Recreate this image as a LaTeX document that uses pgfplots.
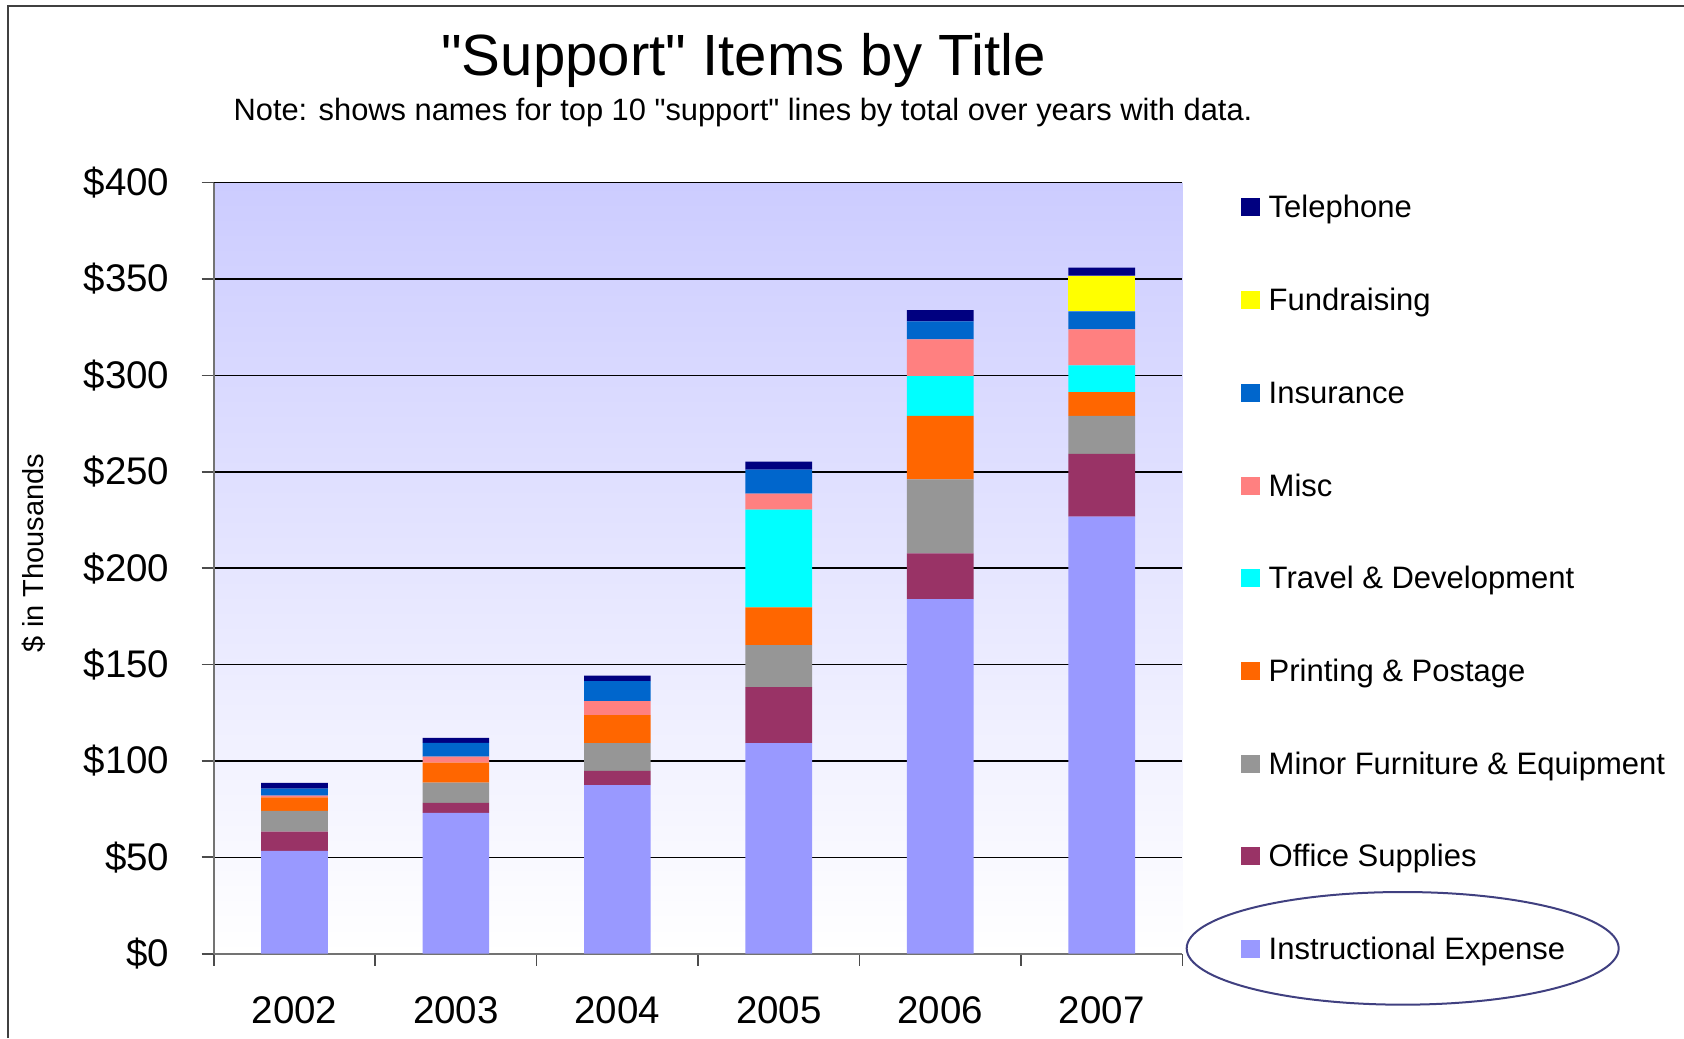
\documentclass[border=0pt]{standalone}
\usepackage{pgfplots}
\pgfplotsset{compat=1.18}
\usepackage{pgfplotstable}
\usepackage{fontspec}
\setmainfont{Liberation Sans}[Ligatures=TeXOff]
\definecolor{cInstr}{HTML}{9999FF}
\definecolor{cOffice}{HTML}{993366}
\definecolor{cMinor}{HTML}{969696}
\definecolor{cPrint}{HTML}{FF6600}
\definecolor{cTravel}{HTML}{00FFFF}
\definecolor{cMisc}{HTML}{FF8080}
\definecolor{cInsur}{HTML}{0066CC}
\definecolor{cFund}{HTML}{FFFF00}
\definecolor{cTel}{HTML}{000080}
\definecolor{cLav}{HTML}{CCCCFF}
\definecolor{cEll}{HTML}{404080}
\pgfplotstableread{
x instr office minor print travel misc insur fund tel
0 53.4  9.9  10.8 7.0  0    0.9  3.6  0    3.0
1 73.1  5.2  10.4 10.4 0    3.1  7.2  0    2.6
2 87.5  7.3  14.5 14.5 0    7.2  10.4 0    2.9
3 109.2 29.1 21.8 19.6 50.7 8.3  12.4 0    4.2
4 183.9 23.8 38.3 33.0 20.6 19.1 9.3  0    5.8
5 226.7 32.6 19.7 12.3 13.9 18.7 9.3  18.6 4.1
}\datatable
\begin{document}
\begin{tikzpicture}
\path[use as bounding box] (0pt,0pt) rectangle (505.2pt,311.4pt);
\draw[line width=0.6pt, color=black!75] (2.4pt,0pt) -- (2.4pt,309.6pt) -- (505.2pt,309.6pt);
\node[anchor=base, font=\fontsize{17.45}{20}\selectfont] at (223.1pt,288.6pt) {"Support" Items by Title};
\node[anchor=base, font=\fontsize{9.25}{11}\selectfont] at (222.9pt,275.1pt) {Note: shows names for top 10 "support" lines by total over years with data.};
\node[rotate=90, font=\fontsize{8.7}{10}\selectfont] at (10.2pt,145.5pt) {\$ in Thousands};
\begin{axis}[
  at={(64.11pt,25.29pt)}, anchor=south west,
  scale only axis, width=290.64pt, height=231.33pt,
  xmin=-0.5, xmax=5.5, ymin=0, ymax=400,
  ybar stacked, bar width=20pt,
  axis lines*=left,
  axis line style={draw=black!55, line width=0.6pt},
  axis background/.style={top color=cLav, bottom color=white},
  ytick={0,50,...,400},
  yticklabel={\$\pgfmathprintnumber{\tick}},
  /pgf/number format/assume math mode=true,
  xtick={-0.5,0.5,...,5.5},
  x tick label as interval,
  xticklabels={2002,2003,2004,2005,2006,2007},
  tick align=outside,
  major tick length=3.6pt,
  tick style={color=black!70, line width=0.5pt},
  ymajorgrids,
  major grid style={color=black, line width=0.45pt},
  yticklabel style={font=\fontsize{11.55}{13}\selectfont, inner sep=0pt, xshift=-9.5pt},
  xticklabel style={font=\fontsize{11.55}{13}\selectfont, inner sep=0pt, yshift=-9.1pt},
  reverse legend,
  legend cell align=left,
  legend image code/.code={\fill[#1] (0pt,-2pt) rectangle (5.7pt,3.4pt);},
  legend style={at={(1.0594,0.9844)}, anchor=north west, draw=none, fill=none,
    inner sep=0pt, row sep=19.11pt, column sep=2.7pt,
    font=\fontsize{9.3}{11}\selectfont,
    nodes={inner sep=0pt, text height=6.8pt, text depth=1.9pt}},
]
\addplot[fill=cInstr, draw=none] table[x=x,y=instr] {\datatable};
\addlegendentry{Instructional Expense}
\addplot[fill=cOffice, draw=none] table[x=x,y=office] {\datatable};
\addlegendentry{Office Supplies}
\addplot[fill=cMinor, draw=none] table[x=x,y=minor] {\datatable};
\addlegendentry{Minor Furniture \& Equipment}
\addplot[fill=cPrint, draw=none] table[x=x,y=print] {\datatable};
\addlegendentry{Printing \& Postage}
\addplot[fill=cTravel, draw=none] table[x=x,y=travel] {\datatable};
\addlegendentry{Travel \& Development}
\addplot[fill=cMisc, draw=none] table[x=x,y=misc] {\datatable};
\addlegendentry{Misc}
\addplot[fill=cInsur, draw=none] table[x=x,y=insur] {\datatable};
\addlegendentry{Insurance}
\addplot[fill=cFund, draw=none] table[x=x,y=fund] {\datatable};
\addlegendentry{Fundraising}
\addplot[fill=cTel, draw=none] table[x=x,y=tel] {\datatable};
\addlegendentry{Telephone}
\end{axis}
\draw[color=cEll, line width=0.6pt] (420.8pt,26.9pt) ellipse [x radius=64.8pt, y radius=16.9pt];
\end{tikzpicture}
\end{document}
